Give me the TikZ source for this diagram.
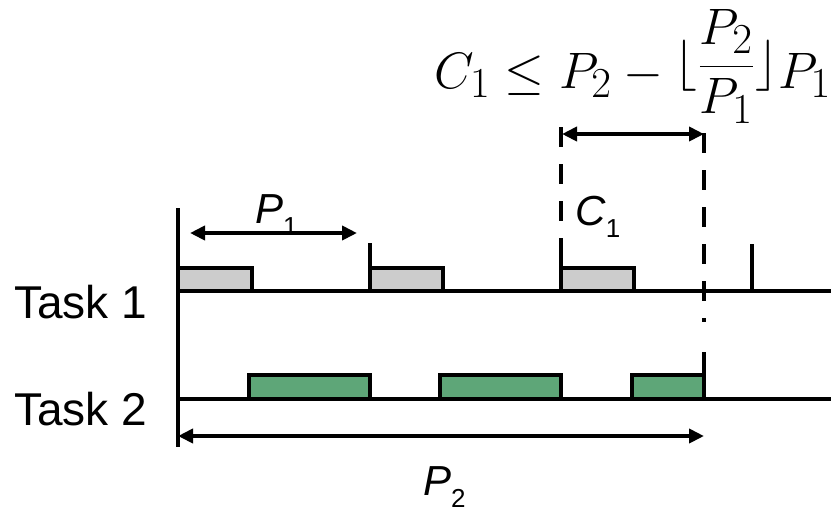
\documentclass[tikz,border=0pt]{standalone}
\usepackage{graphicx}
\usepackage{fontspec}
\setsansfont{Liberation Sans}
\usetikzlibrary{arrows.meta}

\definecolor{jobgray}{RGB}{204,204,204}
\definecolor{jobgreen}{RGB}{94,166,120}
\newcommand{\perlbl}[2]{\textit{#1}\raisebox{-6pt}{\fontsize{13}{13}\selectfont #2}}

\begin{document}
\begin{tikzpicture}[x=.5pt,y=-.5pt,line width=2.2pt,font=\sffamily\fontsize{21}{24}\selectfont,
  span/.style={{Triangle[length=7.5pt,width=7pt]}-{Triangle[length=7.5pt,width=7pt]}},
  guide/.style={dash pattern=on 10pt off 8.5pt},
  lbl/.style={anchor=base west,inner sep=0pt}]
\useasboundingbox (0,0) rectangle (831,511);
% time axis and task lines
\draw (178,208)--(178,447);
\draw (178,291)--(831,291);
\draw (178,399)--(831,399);
\foreach \x in {370,561}{\draw (\x,243)--(\x,291);}
\draw (752,244)--(752,291);
\draw (704,352)--(704,399);
% jobs
\foreach \a/\b in {178/252,370/443,561/634}{\filldraw[fill=jobgray] (\a,291) rectangle (\b,268);}
\foreach \a/\b in {249/370,440/561,632/704}{\filldraw[fill=jobgreen] (\a,399) rectangle (\b,375);}
% guides
\draw[guide] (561,127)--(561,243);
\draw[guide] (704,133)--(704,322);
% spans
\coordinate (p1a) at (190,233);
\coordinate (p1b) at (357,233);
\coordinate (c1a) at (562,134);
\coordinate (c1b) at (704,134);
\coordinate (p2a) at (178,436);
\coordinate (p2b) at (704,436);
\draw[span] (p1a)--(p1b);
\draw[span] (c1a)--(c1b);
\draw[span] (p2a)--(p2b);
% labels
\node[lbl] (lp1) at (253,223) {\perlbl{P}{1}};
\node[lbl] (lc1) at (573,225) {\perlbl{C}{1}};
\node[lbl] (lp2) at (421,495) {\perlbl{P}{2}};
\node[lbl,font=\sffamily\fontsize{23}{26}\selectfont] (t1) at (12,318) {Task 1};
\node[lbl,font=\sffamily\fontsize{23}{26}\selectfont] (t2) at (12,425) {Task 2};
\node[lbl,font=\fontsize{24.88}{30}\selectfont] (bound) at (432,88) {\scalebox{1.03}{$C_1\leq P_2-\raisebox{4.5pt}{$\lfloor\displaystyle\frac{P_2}{P_1}\rfloor$}P_1$}};
\end{tikzpicture}
\end{document}
